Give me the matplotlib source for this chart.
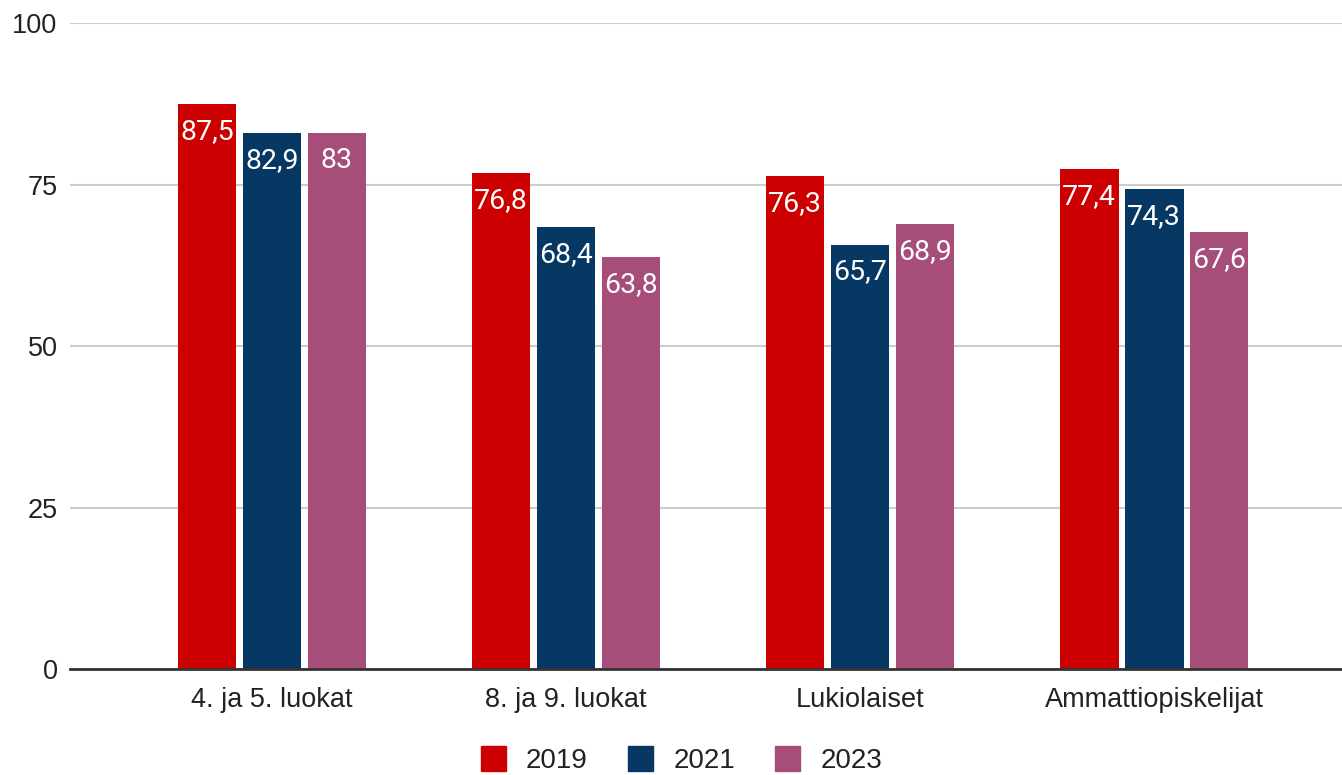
import matplotlib
matplotlib.use("Agg")
import matplotlib.pyplot as plt
from matplotlib.lines import Line2D
from matplotlib.font_manager import FontProperties, fontManager
import numpy as np

categories = ["4. ja 5. luokat", "8. ja 9. luokat", "Lukiolaiset", "Ammattiopiskelijat"]
series_names = ["2019", "2021", "2023"]
values_2019 = [87.5, 76.8, 76.3, 77.4]
values_2021 = [82.9, 68.4, 65.7, 74.3]
values_2023 = [83.0, 63.8, 68.9, 67.6]
y_ticks = [0, 25, 50, 75, 100]
colors = ["#CC0000", "#073763", "#A64D79"]

plt.rcParams['font.family'] = ['Liberation Sans', 'DejaVu Sans']

fig = plt.figure(figsize=(13.42, 7.75), dpi=100)
ax = fig.add_axes([70/1342, 1-669/775, 1-70/1342, (669-23)/775])

x = np.arange(len(categories))
bw = 0.2
step = 0.221
all_series = [values_2019, values_2021, values_2023]

def fmt(v):
    s = f"{v:.1f}"
    if s.endswith(".0"):
        s = s[:-2]
    return s.replace(".", ",")

roboto_regular = [f.fname for f in fontManager.ttflist
                  if f.fname.endswith("Roboto-Regular.ttf")]
if roboto_regular:
    label_font = FontProperties(fname=roboto_regular[0], size=20.5)
else:
    label_font = FontProperties(family='Roboto', size=20.5)

for i, (vals, col) in enumerate(zip(all_series, colors)):
    xs = x + (i - 1) * step
    ax.bar(xs, vals, width=bw, color=col, zorder=3)
    for xi, v in zip(xs, vals):
        ax.annotate(fmt(v), (xi, v), xytext=(0, -10), textcoords="offset points",
                    ha="center", va="top", color="white",
                    fontproperties=label_font, zorder=4)

ax.set_xlim(-0.687, 3.639)
ax.set_ylim(0, 100)
ax.set_yticks(y_ticks)
ax.set_yticklabels([str(t) for t in y_ticks])
ax.set_xticks(x)
ax.set_xticklabels(categories)
ax.tick_params(axis='both', length=0, labelsize=19.5, colors="#222222")
ax.tick_params(axis='y', pad=9)
ax.tick_params(axis='x', pad=13)
ax.grid(axis='y', color="#cccccc", linewidth=1.5, zorder=0)
for s in ["top", "right", "left"]:
    ax.spines[s].set_visible(False)
ax.spines["bottom"].set_color("#333333")
ax.spines["bottom"].set_linewidth(2)
ax.spines["bottom"].set_zorder(5)

handles = [Line2D([], [], marker='s', linestyle='none', markersize=18,
                  markerfacecolor=c, markeredgecolor=c) for c in colors]
fig.legend(handles, series_names, loc="lower center", bbox_to_anchor=(0.507, -0.031),
           ncol=3, frameon=False, fontsize=20, handlelength=1.0, handletextpad=0.7,
           columnspacing=1.37, labelcolor="#222222")

fig.savefig("out.png", dpi=100)
